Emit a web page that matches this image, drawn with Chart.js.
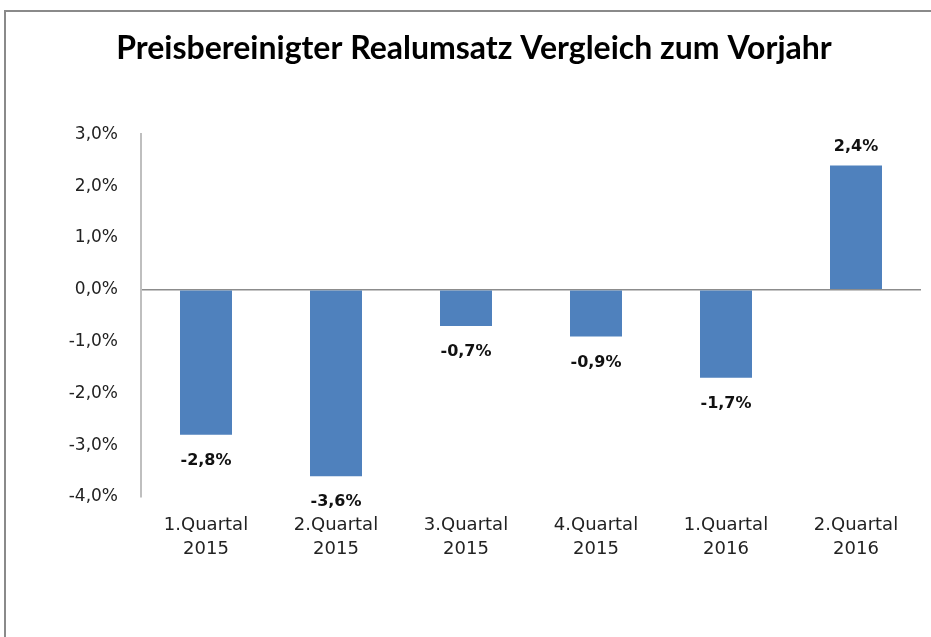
<!DOCTYPE html>
<html>
<head>
<meta charset="utf-8">
<script src="https://cdn.jsdelivr.net/npm/chart.js@4"></script>
<style>
  html, body { margin: 0; padding: 0; background: #fff; }
  #wrap { width: 931px; height: 637px; position: relative; }
</style>
</head>
<body>
<div id="wrap"><canvas id="chart" width="931" height="637"></canvas></div>
<script>
// Daten
const quartale = [
  ["1.Quartal", "2015"],
  ["2.Quartal", "2015"],
  ["3.Quartal", "2015"],
  ["4.Quartal", "2015"],
  ["1.Quartal", "2016"],
  ["2.Quartal", "2016"]
];
const realumsatz = [-2.8, -3.6, -0.7, -0.9, -1.7, 2.4];
const yTicks = [3, 2, 1, 0, -1, -2, -3, -4];

const fmt = v => v.toFixed(1).replace(".", ",") + "%";

/* rahmen links/oben */
const rahmen = {
  id: "rahmen",
  beforeDraw(chart) {
    const c = chart.ctx;
    c.save();
    c.fillStyle = "#fff";
    c.fillRect(0, 0, chart.width, chart.height);
    c.strokeStyle = "#8a8a8a";
    c.lineWidth = 2;
    c.beginPath();
    c.moveTo(5, chart.height);
    c.lineTo(5, 11);
    c.lineTo(chart.width, 11);
    c.stroke();
    c.restore();
  }
};

/* werte an den balken */
const werte = {
  id: "werte",
  afterDatasetsDraw(chart) {
    const c = chart.ctx;
    const meta = chart.getDatasetMeta(0);
    c.save();
    c.font = "bold 16px 'DejaVu Sans'";
    c.fillStyle = "#111";
    c.textAlign = "center";
    c.textBaseline = "middle";
    meta.data.forEach((bar, i) => {
      const v = realumsatz[i];
      const y = v < 0 ? bar.y + 26 : bar.y - 19;
      c.fillText(fmt(v), bar.x, y);
    });
    c.restore();
  }
};

new Chart(document.getElementById("chart"), {
  type: "bar",
  data: {
    labels: quartale,
    datasets: [{
      data: realumsatz,
      backgroundColor: "#4f81bd",
      categoryPercentage: 1,
      barPercentage: 0.4
    }]
  },
  plugins: [rahmen, werte],
  options: {
    responsive: false,
    animation: false,
    layout: { padding: { left: 27, right: 10, top: 0, bottom: 0 } },
    plugins: {
      legend: { display: false },
      tooltip: { enabled: false },
      title: {
        display: true,
        text: "Preisbereinigter Realumsatz Vergleich zum Vorjahr",
        color: "#000",
        font: { family: "Lato", size: 32, weight: "bold", lineHeight: 1.2 },
        padding: { top: 29, bottom: 67 }
      }
    },
    scales: {
      x: {
        grid: { display: false, drawTicks: false },
        border: { display: false },
        ticks: {
          color: "#222",
          padding: 17,
          maxRotation: 0,
          font: { family: "DejaVu Sans", size: 18, lineHeight: 1.3 }
        },
        afterFit(s) { s.height = 140; }
      },
      y: {
        min: -4,
        max: 3,
        afterBuildTicks(s) { s.ticks = yTicks.map(v => ({ value: v })); },
        grid: {
          drawTicks: false,
          color: ctx => (ctx.tick && ctx.tick.value === 0 ? "#8c8c8c" : "rgba(0,0,0,0)"),
          lineWidth: 1.5
        },
        border: { color: "#bfbfbf", width: 2 },
        ticks: {
          color: "#222",
          padding: 23,
          font: { family: "DejaVu Sans", size: 17 },
          callback: v => fmt(v)
        },
        afterFit(s) { s.width = 114; }
      }
    }
  }
});
</script>
</body>
</html>
